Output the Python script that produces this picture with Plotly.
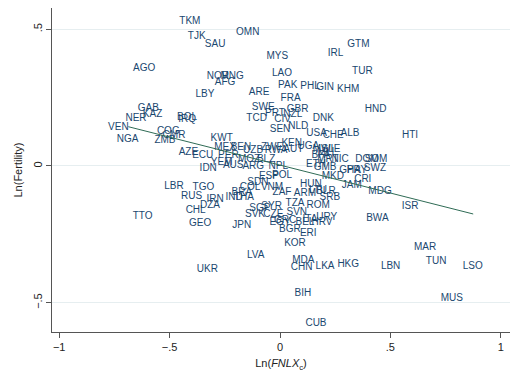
import plotly.graph_objects as go

countries = ["TKM","TJK","SAU","OMN","AGO","NOR","MNG","AFG","LBY","ARE","MYS","LAO","GTM","IRL","TUR",
             "PAK","PHL","GIN","KHM","FRA","GBR","SWE","PRT","NZL","TCD","CIV","DNK","HND","SEN","NLD",
             "USA","CHE","ALB","HTI","GAB","KAZ","NER","BOL","IRQ","VEN","NGA","COG","CMR","ZMB","KWT",
             "AZE","ECU","PER","YEM","IDN","MEX","BEN","UZB","ZWE","RWA","KEN","AUT","UGA","MWI","SLE",
             "MLI","BFA","MRT","NIC","DOM","SOM","GHA","PRY","SWZ","CRI","JAM","MDG","MKD","ETH","GMB",
             "MOZ","BLZ","AUS","ARG","NPL","ESP","POL","SDN","COL","VNM","ZAF","BRA","IND","THA","IRN",
             "DZA","CHL","LBR","TGO","RUS","TTO","GEO","JPN","LVA","UKR","SYR","SGP","SVK","CZE","TZA",
             "HUN","ARM","LTU","BLR","SRB","ROM","SVN","GRC","ITA","URY","HRV","BGR","ERI","KOR","MDA",
             "CHN","LKA","HKG","LBN","BWA","ISR","MAR","TUN","LSO","MUS","CUB","BIH","EGY","BEL"]
ln_fnlx = [-0.408,-0.377,-0.294,-0.146,-0.615,-0.281,-0.217,-0.249,-0.340,-0.095,-0.012,0.009,0.355,0.252,0.373,
           0.035,0.136,0.204,0.309,0.048,0.080,-0.076,-0.023,0.058,-0.106,0.012,0.196,0.433,0.000,0.083,
           0.166,0.241,0.317,0.589,-0.596,-0.577,-0.652,-0.421,-0.421,-0.732,-0.690,-0.506,-0.480,-0.521,-0.264,
           -0.415,-0.350,-0.234,-0.264,-0.325,-0.249,-0.177,-0.122,-0.036,-0.018,0.053,0.060,0.128,0.195,0.231,
           0.208,0.186,0.217,0.272,0.394,0.435,0.317,0.349,0.430,0.375,0.325,0.453,0.239,0.163,0.204,
           -0.140,-0.063,-0.212,-0.121,-0.008,-0.050,0.009,-0.100,-0.136,-0.036,0.009,-0.173,-0.208,-0.163,-0.294,
           -0.317,-0.382,-0.480,-0.347,-0.400,-0.622,-0.362,-0.173,-0.110,-0.329,-0.038,-0.091,-0.113,-0.030,0.068,
           0.140,0.113,0.172,0.208,0.226,0.173,0.076,0.023,0.136,0.212,0.190,0.045,0.128,0.068,0.106,
           0.098,0.204,0.309,0.501,0.441,0.589,0.657,0.707,0.873,0.778,0.163,0.104,0.000,0.113]
ln_fertility = [0.527,0.475,0.445,0.489,0.355,0.329,0.329,0.305,0.262,0.270,0.402,0.340,0.443,0.410,0.347,
                0.294,0.292,0.288,0.281,0.246,0.207,0.215,0.193,0.190,0.172,0.171,0.174,0.207,0.132,0.144,
                0.120,0.113,0.120,0.113,0.211,0.190,0.172,0.178,0.170,0.140,0.098,0.125,0.113,0.095,0.099,
                0.049,0.038,0.038,0.012,-0.008,0.069,0.069,0.055,0.069,0.055,0.083,0.059,0.071,0.062,0.059,
                0.048,0.037,0.022,0.022,0.024,0.024,-0.018,-0.015,-0.008,-0.051,-0.072,-0.094,-0.039,0.004,-0.004,
                0.024,0.022,0.001,-0.003,-0.003,-0.040,-0.033,-0.059,-0.080,-0.080,-0.096,-0.096,-0.117,-0.117,-0.122,
                -0.146,-0.163,-0.076,-0.078,-0.110,-0.183,-0.212,-0.216,-0.326,-0.378,-0.149,-0.157,-0.177,-0.179,-0.136,
                -0.069,-0.102,-0.088,-0.095,-0.117,-0.143,-0.171,-0.198,-0.194,-0.189,-0.205,-0.234,-0.246,-0.285,-0.346,
                -0.371,-0.366,-0.360,-0.368,-0.193,-0.149,-0.299,-0.350,-0.368,-0.486,-0.575,-0.465,-0.205,-0.205]

# Linear fit
fit_x = [-0.687, 0.875]
fit_intercept = 0.0033
fit_slope = -0.2044
fit_y = [fit_intercept + fit_slope * v for v in fit_x]

x_ticks = [-1, -0.5, 0, 0.5, 1]
x_tick_labels = ["\u22121", "\u2212.5", "0", ".5", "1"]
y_ticks = [-0.5, 0, 0.5]
y_tick_labels = ["\u2212.5", "0", ".5"]

navy = "#1a476f"
fig = go.Figure()
fig.add_trace(go.Scatter(x=ln_fnlx, y=ln_fertility, mode="text", text=countries,
                         textposition="middle center",
                         textfont=dict(family="Liberation Sans, Arial", size=10, color=navy),
                         showlegend=False, hoverinfo="skip"))
fig.add_trace(go.Scatter(x=fit_x, y=fit_y, mode="lines",
                         line=dict(color="#2f6b55", width=1), showlegend=False))

axis_font = dict(family="Liberation Sans, Arial", size=11, color="#222")
fig.update_layout(
    width=520, height=376,
    margin=dict(l=44, r=18, t=0, b=52),
    paper_bgcolor="white", plot_bgcolor="white",
    font=axis_font,
    xaxis=dict(range=[-1.0326, 1.0417], tickvals=x_ticks, ticktext=x_tick_labels,
               showgrid=False, zeroline=False, showline=True, linecolor="#555", linewidth=1,
               ticks="outside", ticklen=5, tickcolor="#555",
               title=dict(text="Ln(<i>FNLX</i><sub>c</sub>)", font=axis_font, standoff=7)),
    yaxis=dict(range=[-0.6072, 0.5779], tickvals=y_ticks, ticktext=y_tick_labels, tickangle=-90,
               showgrid=True, gridcolor="#e6eef0", gridwidth=1, zeroline=False,
               showline=True, linecolor="#555", linewidth=1,
               ticks="outside", ticklen=5, tickcolor="#555",
               title=dict(text="Ln(Fertility)", font=axis_font, standoff=6)),
)
fig.write_html("out.html")
